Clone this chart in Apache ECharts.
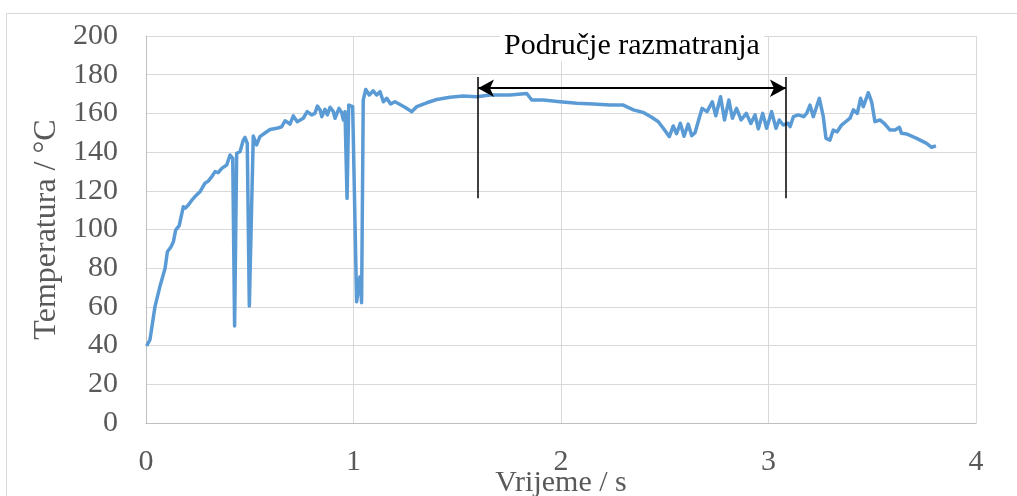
<!DOCTYPE html>
<html>
<head>
<meta charset="utf-8">
<script src="https://cdn.jsdelivr.net/npm/echarts@6/dist/echarts.min.js"></script>
<style>
html,body{margin:0;padding:0;background:#fff;}
#chart{width:1017px;height:496px;}
</style>
</head>
<body>
<div id="chart"></div>
<script>
// Time (s)
const timeS = [0.003,0.019,0.043,0.067,0.092,0.103,0.12,0.132,0.143,0.16,0.18,0.19,0.204,0.22,0.236,0.26,0.284,0.3,0.317,0.333,0.348,0.365,0.389,0.405,0.418,0.427,0.437,0.453,0.469,0.477,0.488,0.498,0.517,0.533,0.549,0.575,0.598,0.63,0.654,0.67,0.694,0.71,0.729,0.758,0.777,0.798,0.814,0.826,0.839,0.847,0.863,0.874,0.887,0.903,0.911,0.93,0.943,0.951,0.959,0.969,0.977,0.996,1.015,1.031,1.039,1.047,1.059,1.076,1.095,1.112,1.128,1.144,1.16,1.179,1.2,1.248,1.28,1.305,1.353,1.401,1.465,1.529,1.594,1.658,1.754,1.835,1.859,1.915,1.995,2.076,2.156,2.236,2.3,2.349,2.397,2.437,2.469,2.493,2.522,2.541,2.557,2.575,2.593,2.613,2.63,2.646,2.661,2.68,2.704,2.729,2.746,2.769,2.788,2.809,2.826,2.846,2.868,2.893,2.915,2.935,2.951,2.972,2.991,3.015,3.036,3.052,3.071,3.095,3.104,3.12,3.144,3.169,3.184,3.2,3.216,3.245,3.264,3.277,3.296,3.312,3.331,3.352,3.393,3.409,3.428,3.444,3.457,3.481,3.497,3.513,3.537,3.557,3.586,3.61,3.631,3.641,3.665,3.714,3.762,3.786,3.807];
// Temperature (°C)
const tempC = [39.8,43,60,70.5,80,88.5,91,93.7,99.7,102,111.8,111,112.7,115,117,119.5,123.9,125,127.3,129.9,129.4,131.6,133.3,138.5,136.8,50.1,139.4,140.2,146.2,147.6,144.5,60.5,148.3,143.7,148,150,151.7,152.3,153.1,156.2,154.5,158.7,155.7,157.5,160.9,159.2,160,163.8,161.8,158.3,162.1,159.2,163.2,160.9,157.5,162.6,160.4,156.6,160.9,116.1,164.3,163.5,62.7,75.6,62.2,166.9,172.4,169.5,171.7,169.5,171.2,166,167.8,164.9,166,163.2,160.9,163.5,165.5,167.2,168.3,169,168.6,169.5,169.5,170.3,166.9,166.9,166,165.2,164.9,164.3,164.3,161.8,160.5,158,155.7,152.3,148,153.5,149.5,154.9,148.2,154.5,148.5,150,155.7,162.6,160.9,166,158.8,168.6,156.6,166.9,157.5,162.6,156.6,160,154.8,159.2,152,160,152.3,160.9,152.3,156.6,154,154.9,153.1,158.3,159.2,158.3,160,164.3,158.3,167.8,158.3,147.1,146.2,151.4,150.5,154,157.5,161.8,160,167.8,163.5,170.7,166,155.7,156.6,154.9,151.4,151.4,152.8,149.7,149.4,147.1,144.5,142.5,143.2];

// Annotation: region of interest
const regionStart = 1.6;
const regionEnd = 3.084;
const regionBarLow = 116.1;
const regionBarHigh = 178.8;
const regionArrowY = 173;
const regionLabel = 'Područje razmatranja';

const xTicks = {min: 0, max: 4, interval: 1};
const yTicks = {min: 0, max: 200, interval: 20};
const xName = 'Vrijeme / s';
const yName = 'Temperatura / °C';

const chart = echarts.init(document.getElementById('chart'), null, {renderer: 'canvas'});
const serif = '"Liberation Serif", "Times New Roman", serif';
const lineData = timeS.map((t, i) => [t, tempC[i]]);

chart.setOption({
  animation: false,
  backgroundColor: '#ffffff',
  grid: {left: 146, right: 41, top: 36, bottom: 73, containLabel: false, outerBoundsMode: 'none'},
  xAxis: {
    type: 'value', min: xTicks.min, max: xTicks.max, interval: xTicks.interval,
    name: xName, nameLocation: 'middle', nameGap: 45, nameMoveOverlap: false,
    nameTextStyle: {fontFamily: serif, fontSize: 30, color: '#595959'},
    axisLine: {show: true, lineStyle: {color: '#bfbfbf', width: 1}},
    axisTick: {show: false},
    axisLabel: {fontFamily: serif, fontSize: 30, color: '#595959', margin: 24},
    splitLine: {show: true, lineStyle: {color: '#d9d9d9', width: 1}}
  },
  yAxis: {
    type: 'value', min: yTicks.min, max: yTicks.max, interval: yTicks.interval,
    name: yName, nameLocation: 'middle', nameGap: 83, nameMoveOverlap: false,
    nameTextStyle: {fontFamily: serif, fontSize: 32, color: '#595959'},
    axisLine: {show: true, lineStyle: {color: '#bfbfbf', width: 1}},
    axisTick: {show: false},
    axisLabel: {fontFamily: serif, fontSize: 30, color: '#595959', margin: 28},
    splitLine: {show: true, lineStyle: {color: '#d9d9d9', width: 1}}
  },
  graphic: [
    {type: 'rect', left: 4, top: 11, silent: true, z: -10,
     shape: {width: 1040, height: 520}, style: {fill: 'none', stroke: '#d9d9d9', lineWidth: 1}},
  ],
  series: [
    {
      type: 'line', data: lineData, showSymbol: false, symbol: 'none',
      lineStyle: {color: '#5b9bd5', width: 3.5, join: 'round'},
      z: 3
    },
    {
      type: 'line', data: [], silent: true,
      markLine: {
        silent: true, animation: false,
        symbol: ['none', 'none'],
        label: {show: false},
        lineStyle: {color: '#000000', width: 1.5, type: 'solid'},
        data: [
          [{coord: [regionStart, regionBarLow]}, {coord: [regionStart, regionBarHigh]}],
          [{coord: [regionEnd, regionBarLow]}, {coord: [regionEnd, regionBarHigh]}],
          [{coord: [regionStart, regionArrowY], symbol: 'arrow', symbolSize: [13, 16]},
           {coord: [regionEnd, regionArrowY], symbol: 'arrow', symbolSize: [13, 16],
            label: {show: true, position: 'middle', formatter: regionLabel, distance: 27,
                    fontFamily: serif, fontSize: 30, color: '#000000',
                    backgroundColor: '#ffffff', padding: [0, 4]},
            lineStyle: {width: 2}}]
        ]
      },
      z: 4
    }
  ]
});
</script>
</body>
</html>
